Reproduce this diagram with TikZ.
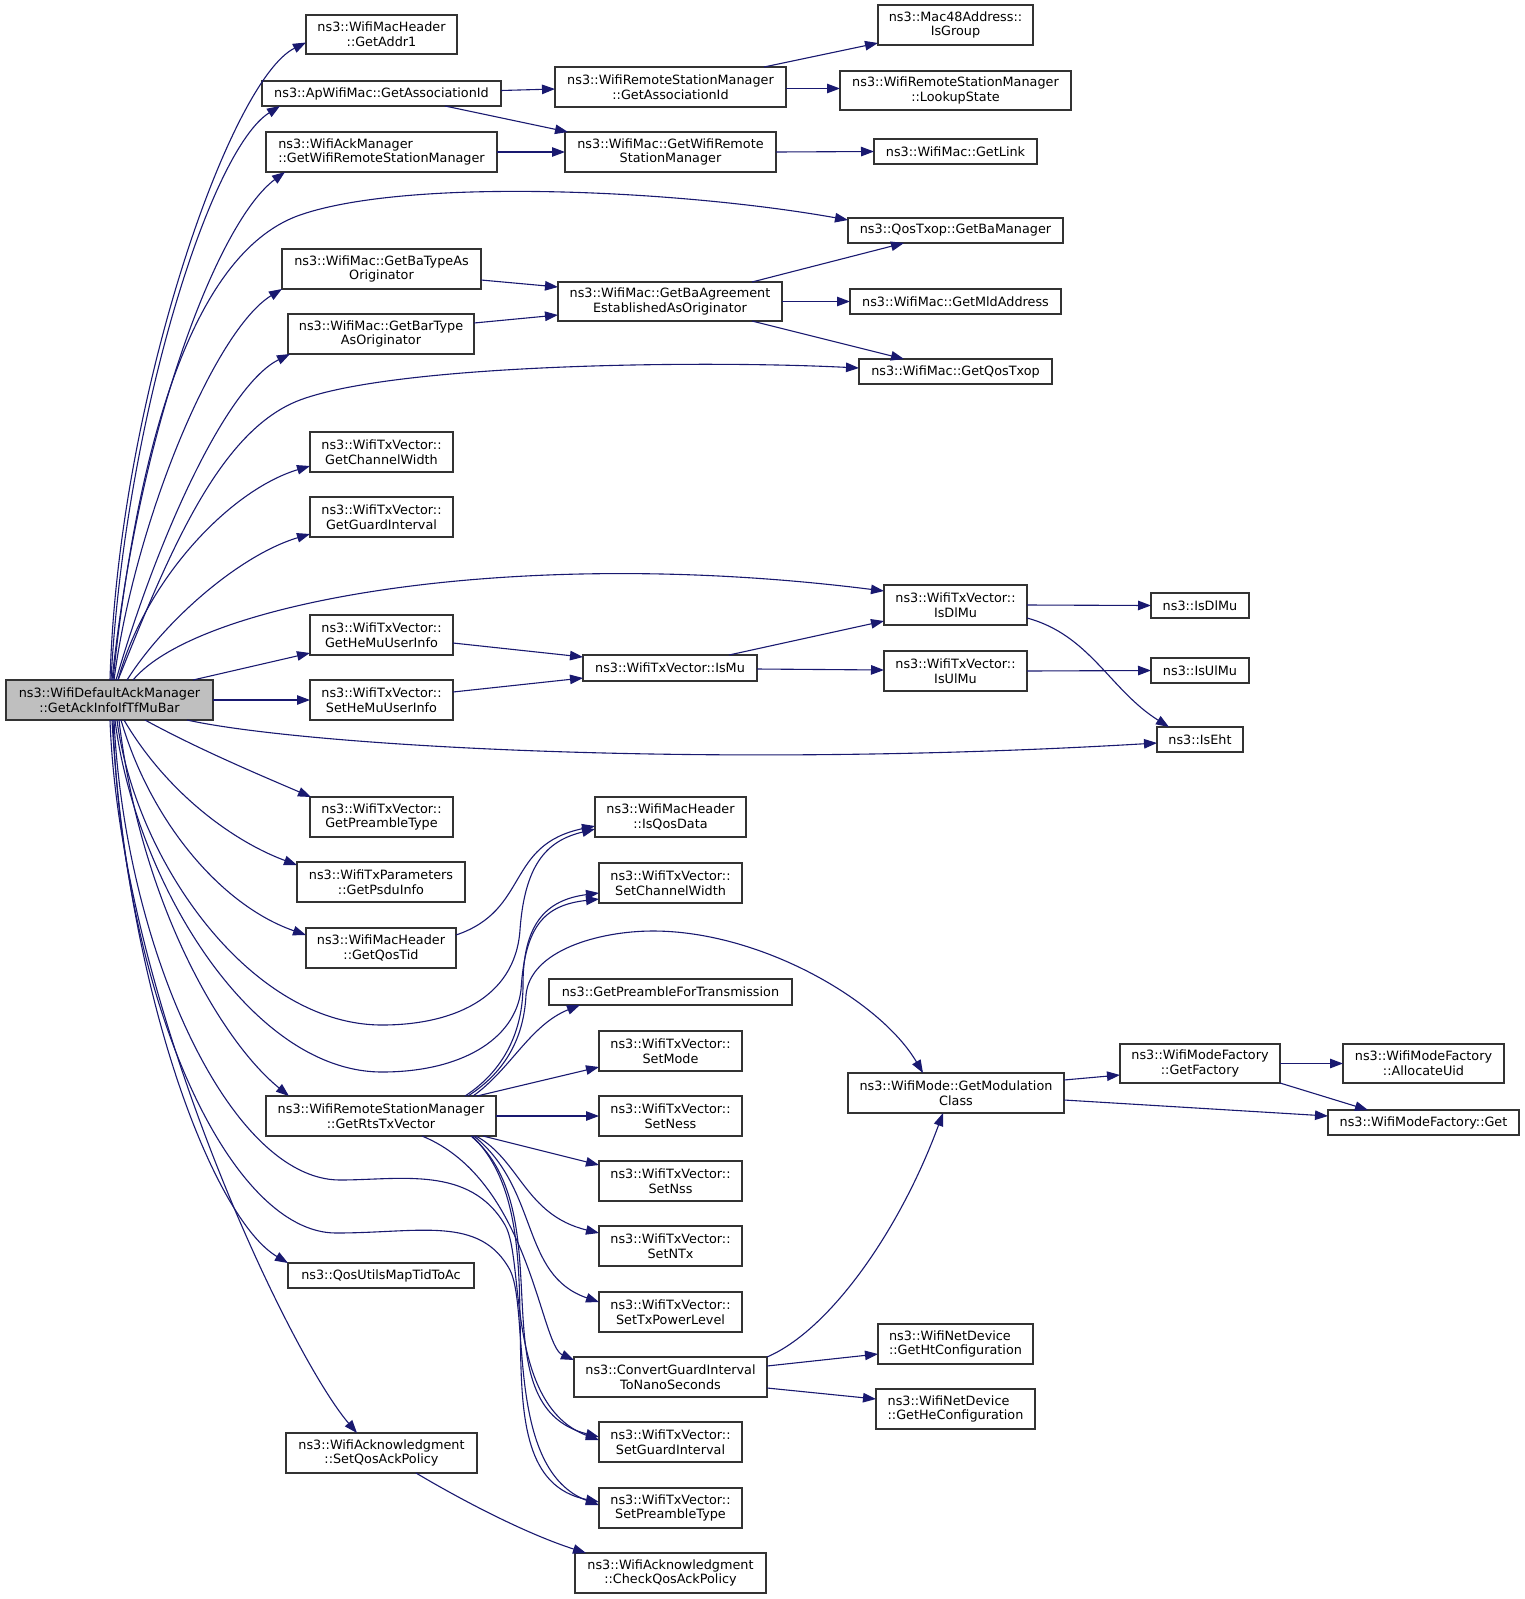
\documentclass[tikz,border=0pt]{standalone}
\usepackage{fontspec}
\setmainfont{DejaVu Sans}
\usetikzlibrary{arrows.meta,calc}
\definecolor{edgecol}{HTML}{191970}
\definecolor{mainfill}{HTML}{BFBFBF}
\tikzset{
  fnbox/.style={draw=black!80, line width=1.1pt, fill=white, inner sep=0pt, outer sep=0pt,
    align=center, font=\fontsize{12.8}{14.6}\selectfont},
  lbox/.style={align=left},
  mainbox/.style={fill=mainfill},
  cedge/.style={draw=edgecol, line width=1.1pt, -{Triangle[length=13pt,width=9.5pt]}},
}
\newcommand\fnnode[7][]{%
  \pgfmathsetmacro\fnw{#5-#3}%
  \pgfmathsetmacro\fnh{#6-#4}%
  \pgfmathsetmacro\fnx{(#3+#5)/2}%
  \pgfmathsetmacro\fny{(#4+#6)/2}%
  \node[fnbox,#1,minimum width=\fnw pt,minimum height=\fnh pt] (#2) at (\fnx,\fny) {#7};%
}
\begin{document}
\begin{tikzpicture}[x=1pt,y=-1pt]
\fill[white] (0,0) rectangle (1525,1599);
\useasboundingbox (0,0) rectangle (1525,1599);
% main
\fnnode[mainbox]{M}{6}{680}{213}{720}{ns3::WifiDefaultAckManager\\::GetAckInfoIfTfMuBar}
% column 2
\fnnode{A1}{306}{15}{457}{54}{ns3::WifiMacHeader\\::GetAddr1}
\fnnode{A2}{262}{81}{501}{106}{ns3::ApWifiMac::GetAssociationId}
\fnnode[lbox]{A3}{266}{132}{497}{172}{ns3::WifiAckManager\\::GetWifiRemoteStationManager}
\fnnode{A4}{282}{249}{481}{289}{ns3::WifiMac::GetBaTypeAs\\Originator}
\fnnode{A5}{288}{314}{474}{354}{ns3::WifiMac::GetBarType\\AsOriginator}
\fnnode{A6}{310}{432}{453}{472}{ns3::WifiTxVector::\\GetChannelWidth}
\fnnode{A7}{310}{497}{453}{537}{ns3::WifiTxVector::\\GetGuardInterval}
\fnnode{A8}{310}{615}{453}{655}{ns3::WifiTxVector::\\GetHeMuUserInfo}
\fnnode{A9}{310}{680}{453}{720}{ns3::WifiTxVector::\\SetHeMuUserInfo}
\fnnode{A10}{310}{797}{453}{837}{ns3::WifiTxVector::\\GetPreambleType}
\fnnode{A11}{297}{862}{465}{902}{ns3::WifiTxParameters\\::GetPsduInfo}
\fnnode{A12}{306}{928}{456}{968}{ns3::WifiMacHeader\\::GetQosTid}
\fnnode{A13}{266}{1096}{496}{1136}{ns3::WifiRemoteStationManager\\::GetRtsTxVector}
\fnnode{A14}{288}{1263}{474}{1288}{ns3::QosUtilsMapTidToAc}
\fnnode{A15}{286}{1433}{477}{1473}{ns3::WifiAcknowledgment\\::SetQosAckPolicy}
% column 3
\fnnode{B1}{555}{67}{786}{107}{ns3::WifiRemoteStationManager\\::GetAssociationId}
\fnnode{B2}{565}{132}{776}{172}{ns3::WifiMac::GetWifiRemote\\StationManager}
\fnnode{B3}{558}{282}{782}{321}{ns3::WifiMac::GetBaAgreement\\EstablishedAsOriginator}
\fnnode{B4}{583}{655}{757}{681}{ns3::WifiTxVector::IsMu}
\fnnode{B5}{595}{797}{746}{837}{ns3::WifiMacHeader\\::IsQosData}
\fnnode{B6}{599}{863}{742}{903}{ns3::WifiTxVector::\\SetChannelWidth}
\fnnode{B7}{549}{979}{792}{1005}{ns3::GetPreambleForTransmission}
\fnnode{B8}{599}{1031}{742}{1071}{ns3::WifiTxVector::\\SetMode}
\fnnode{B9}{599}{1096}{742}{1136}{ns3::WifiTxVector::\\SetNess}
\fnnode{B10}{599}{1161}{742}{1201}{ns3::WifiTxVector::\\SetNss}
\fnnode{B11}{599}{1226}{742}{1266}{ns3::WifiTxVector::\\SetNTx}
\fnnode{B12}{599}{1292}{742}{1332}{ns3::WifiTxVector::\\SetTxPowerLevel}
\fnnode{B13}{574}{1357}{767}{1397}{ns3::ConvertGuardInterval\\ToNanoSeconds}
\fnnode{B14}{599}{1422}{742}{1462}{ns3::WifiTxVector::\\SetGuardInterval}
\fnnode{B15}{599}{1488}{742}{1528}{ns3::WifiTxVector::\\SetPreambleType}
\fnnode{B16}{575}{1553}{766}{1593}{ns3::WifiAcknowledgment\\::CheckQosAckPolicy}
% column 4
\fnnode{C1}{878}{5}{1033}{45}{ns3::Mac48Address::\\IsGroup}
\fnnode{C2}{840}{71}{1071}{110}{ns3::WifiRemoteStationManager\\::LookupState}
\fnnode{C3}{874}{139}{1037}{164}{ns3::WifiMac::GetLink}
\fnnode{C4}{848}{218}{1063}{243}{ns3::QosTxop::GetBaManager}
\fnnode{C5}{850}{289}{1061}{314}{ns3::WifiMac::GetMldAddress}
\fnnode{C6}{859}{359}{1052}{384}{ns3::WifiMac::GetQosTxop}
\fnnode{C7}{884}{585}{1027}{625}{ns3::WifiTxVector::\\IsDlMu}
\fnnode{C8}{884}{651}{1027}{691}{ns3::WifiTxVector::\\IsUlMu}
\fnnode{C9}{848}{1073}{1064}{1113}{ns3::WifiMode::GetModulation\\Class}
\fnnode[lbox]{C10}{878}{1324}{1033}{1364}{ns3::WifiNetDevice\\::GetHtConfiguration}
\fnnode[lbox]{C11}{876}{1389}{1035}{1429}{ns3::WifiNetDevice\\::GetHeConfiguration}
% column 5 / 6
\fnnode{D1}{1151}{593}{1249}{618}{ns3::IsDlMu}
\fnnode{D2}{1151}{658}{1249}{683}{ns3::IsUlMu}
\fnnode{D3}{1157}{727}{1243}{752}{ns3::IsEht}
\fnnode{D4}{1120}{1044}{1280}{1083}{ns3::WifiModeFactory\\::GetFactory}
\fnnode{E1}{1343}{1044}{1504}{1083}{ns3::WifiModeFactory\\::AllocateUid}
\fnnode{E2}{1328}{1110}{1519}{1135}{ns3::WifiModeFactory::Get}

% edges from main, upwards
\draw[cedge] ($(M.north)+(0.5,0)$) .. controls (118,400) and (230,80) .. ($(A1.west)+(0,8)$);
\draw[cedge] ($(M.north)+(1.5,0)$) .. controls (125,420) and (210,150) .. ($(A2.south west)+(18,0)$);
\draw[cedge] ($(M.north)+(2.5,0)$) .. controls (140,420) and (220,220) .. ($(A3.south west)+(19,0)$);
\draw[cedge] ($(M.north)+(3.5,0)$) .. controls (140,420) and (200,250) .. (300,215) .. controls (410,177) and (680,190) .. ($(C4.north west)+(0,2)$);
\draw[cedge] ($(M.north)+(4.5,0)$) .. controls (135,520) and (215,330) .. (A4.south west);
\draw[cedge] ($(M.north)+(6.5,0)$) .. controls (160,530) and (228,385) .. ($(A5.south west)+(2,0)$);
\draw[cedge] ($(M.north)+(8.5,0)$) .. controls (170,550) and (220,430) .. (300,400) .. controls (396,364) and (700,360) .. ($(C6.west)+(0,-3.5)$);
\draw[cedge] ($(M.north)+(8.5,0)$) .. controls (145,580) and (230,490) .. ($(A6.west)+(0,14)$);
\draw[cedge] ($(M.north)+(17.5,0)$) .. controls (165,620) and (240,555) .. ($(A7.west)+(0,17)$);
\draw[cedge] ($(M.north)+(23.5,0)$) .. controls (200,600) and (520,545) .. ($(C7.west)+(0,-14)$);
\draw[cedge] ($(M.north)+(83.5,0)$) -- ($(A8.west)+(0,18)$);
\draw[cedge] (M.east) -- (A9.west);
% edges from main, downwards
\draw[cedge] ($(M.south)+(77.5,0)$) .. controls (300,745) and (700,770) .. ($(D3.west)+(0,3.5)$);
\draw[cedge] ($(M.south)+(35.5,0)$) .. controls (200,750) and (260,775) .. ($(A10.north west)+(1,0)$);
\draw[cedge] ($(M.south)+(14.5,0)$) .. controls (165,790) and (230,840) .. ($(A11.west)+(0,-17)$);
\draw[cedge] ($(M.south)+(11.5,0)$) .. controls (150,820) and (220,905) .. ($(A12.west)+(0,-13)$);
\draw[cedge] ($(M.south)+(7.5,0)$) .. controls (135,860) and (250,1025) .. (382,1025) .. controls (450,1025) and (515,1000) .. (520,930) .. controls (525,860) and (550,840) .. ($(B5.west)+(0,12)$);
\draw[cedge] ($(M.south)+(5.5,0)$) .. controls (135,880) and (250,1072) .. (382,1072) .. controls (460,1072) and (515,1040) .. (521,990) .. controls (525,925) and (545,905) .. ($(B6.west)+(0,16)$);
\draw[cedge] ($(M.south)+(9.5,0)$) .. controls (140,900) and (220,1040) .. ($(A13.north west)+(23,0)$);
\draw[cedge] ($(M.south)+(4.5,0)$) .. controls (125,950) and (230,1180) .. (340,1180) .. controls (400,1180) and (470,1165) .. (505,1225) .. controls (525,1259) and (505,1405) .. ($(B14.west)+(0,-2)$);
\draw[cedge] ($(M.south)+(3.5,0)$) .. controls (122,1000) and (230,1233) .. (336,1233) .. controls (420,1233) and (480,1215) .. (510,1270) .. controls (530,1310) and (505,1470) .. ($(B15.west)+(0,-3)$);
\draw[cedge] ($(M.south)+(2.5,0)$) .. controls (128,1000) and (215,1220) .. (A14.north west);
\draw[cedge] ($(M.south)+(0.5,0)$) .. controls (120,1000) and (290,1355) .. ($(A15.north west)+(71,0)$);
% edges from GetRtsTxVector
\draw[cedge] ($(A13.north)+(92,0)$) .. controls (510,1070) and (530,1025) .. ($(B7.south west)+(31,0)$);
\draw[cedge] ($(A13.north)+(96,0)$) -- ($(B8.west)+(0,16)$);
\draw[cedge] (A13.east) -- (B9.west);
\draw[cedge] ($(A13.south)+(102,0)$) -- ($(B10.west)+(0,-16)$);
\draw[cedge] ($(A13.south)+(95,0)$) .. controls (520,1160) and (525,1215) .. ($(B11.west)+(0,-13)$);
\draw[cedge] ($(A13.south)+(93,0)$) .. controls (540,1190) and (520,1275) .. ($(B12.west)+(0,-10)$);
\draw[cedge] ($(A13.south)+(41,0)$) .. controls (530,1180) and (540,1345) .. ($(B13.west)+(0,-17)$);
\draw[cedge] ($(A13.south)+(90,0)$) .. controls (565,1215) and (475,1405) .. ($(B14.west)+(0,-5)$);
\draw[cedge] ($(A13.south)+(91,0)$) .. controls (570,1230) and (465,1475) .. ($(B15.west)+(0,-6)$);
\draw[cedge] ($(A13.north)+(84,0)$) .. controls (505,1070) and (523,1030) .. (523,985) .. controls (523,925) and (545,900) .. ($(B6.west)+(0,10)$);
\draw[cedge] ($(A13.north)+(87,0)$) .. controls (508,1070) and (524,1035) .. (526,995) .. controls (530,950) and (600,931) .. (653,931) .. controls (760,931) and (880,1000) .. ($(C9.north)+(-33,0)$);
% other edges
\draw[cedge] ($(A12.east)+(0,-13)$) .. controls (530,910) and (505,845) .. ($(B5.west)+(0,9)$);
\draw[cedge] ($(A2.east)+(0,-3)$) -- ($(B1.west)+(0,2)$);
\draw[cedge] ($(A2.south)+(63.5,0)$) -- ($(B2.north west)+(3,0)$);
\draw[cedge] (A3.east) -- (B2.west);
\draw[cedge] ($(B1.north)+(93.5,0)$) -- ($(C1.south west)+(0,-2)$);
\draw[cedge] ($(B1.east)+(0,1.5)$) -- ($(C2.west)+(0,-2)$);
\draw[cedge] (B2.east) -- (C3.west);
\draw[cedge] ($(A4.east)+(0,11)$) -- ($(B3.west)+(0,-14.5)$);
\draw[cedge] ($(A5.east)+(0,-11)$) -- ($(B3.west)+(0,13.5)$);
\draw[cedge] ($(B3.north)+(82,0)$) -- ($(C4.south)+(-51.5,0)$);
\draw[cedge] (B3.east) -- (C5.west);
\draw[cedge] ($(B3.south)+(82,0)$) -- ($(C6.north)+(-51.5,0)$);
\draw[cedge] ($(A8.east)+(0,8)$) -- ($(B4.west)+(0,-11)$);
\draw[cedge] ($(A9.east)+(0,-8)$) -- ($(B4.west)+(0,10)$);
\draw[cedge] ($(B4.north)+(59,0)$) -- ($(C7.south west)+(0,-4)$);
\draw[cedge] ($(B4.east)+(0,1)$) -- ($(C8.west)+(0,-1)$);
\draw[cedge] (C7.east) -- (D1.west);
\draw[cedge] ($(C7.east)+(0,13)$) .. controls (1090,635) and (1110,690) .. ($(D3.north west)+(12,0)$);
\draw[cedge] (C8.east) -- (D2.west);
\draw[cedge] ($(B13.east)+(0,-11)$) -- ($(C10.west)+(0,10)$);
\draw[cedge] ($(B13.east)+(0,11)$) -- ($(C11.west)+(0,-10)$);
\draw[cedge] (B13.north east) .. controls (830,1330) and (900,1230) .. ($(C9.south)+(-13,0)$);
\draw[cedge] ($(C9.east)+(0,-13)$) -- ($(D4.west)+(0,11.5)$);
\draw[cedge] ($(C9.east)+(0,7)$) -- ($(E2.west)+(0,-6.5)$);
\draw[cedge] (D4.east) -- (E1.west);
\draw[cedge] (D4.south east) -- ($(E2.north)+(-55.5,0)$);
\draw[cedge] ($(A15.south)+(34.5,0)$) .. controls (470,1505) and (530,1535) .. ($(B16.north west)+(11,0)$);
\end{tikzpicture}
\end{document}
